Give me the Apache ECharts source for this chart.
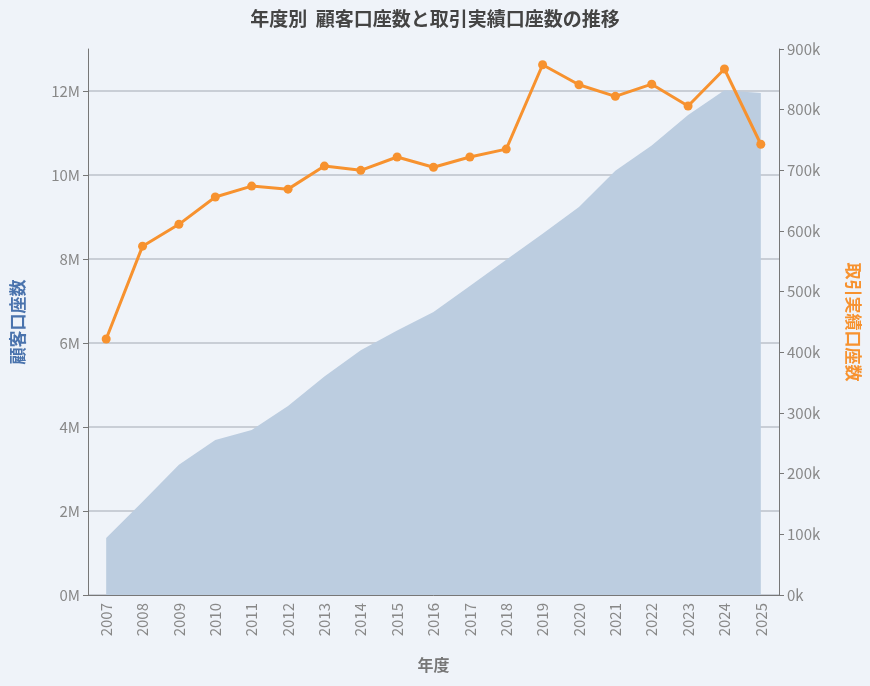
<!DOCTYPE html>
<html><head><meta charset="utf-8">
<script src="https://cdn.jsdelivr.net/npm/echarts@6/dist/echarts.min.js"></script>
<style>html,body{margin:0;background:#eff3f9}#c{width:870px;height:686px}</style>
</head><body><div id="c"></div>
<script>
const years=['2007','2008','2009','2010','2011','2012','2013','2014','2015','2016','2017','2018','2019','2020','2021','2022','2023','2024','2025'];
const customerAccounts=[1.36,2.22,3.1,3.69,3.93,4.5,5.2,5.83,6.3,6.74,7.36,7.98,8.6,9.24,10.1,10.7,11.43,12.02,11.95].map(v=>v*1e6);
const tradingAccounts=[422,575,611,656,674,669,707,700,722,705,722,735,874,841,822,842,806,867,743].map(v=>v*1e3);
const font='"Noto Sans CJK JP","Noto Sans",sans-serif';
const c=echarts.init(document.getElementById('c'));
c.setOption({
backgroundColor:'#eff3f9',
textStyle:{fontFamily:font},
title:{text:'年度別  顧客口座数と取引実績口座数の推移',left:'center',top:4,textStyle:{fontSize:19,fontWeight:'bold',color:'#444',fontFamily:font}},
grid:{left:88,right:90,top:49,bottom:91},
xAxis:{type:'category',data:years,boundaryGap:true,name:'年度',nameLocation:'middle',nameGap:62,
 nameTextStyle:{fontSize:16,fontWeight:'bold',color:'#777'},
 axisLine:{lineStyle:{color:'#777'}},axisTick:{alignWithLabel:true,lineStyle:{color:'#777'}},
 axisLabel:{rotate:90,color:'#888',fontSize:15}},
yAxis:[{type:'value',min:0,max:13e6,interval:2e6,name:'顧客口座数',nameLocation:'middle',nameGap:62,
 nameTextStyle:{fontSize:17,fontWeight:'bold',color:'#4a73ad'},
 axisLine:{show:true,lineStyle:{color:'#777'}},axisTick:{show:true},
 axisLabel:{color:'#888',fontSize:15,showMaxLabel:false,formatter:v=>(v/1e6)+'M'},
 splitLine:{showMaxLine:false,lineStyle:{color:'#bcc2ca',width:1.5}}},
{type:'value',min:0,max:900000,interval:100000,name:'取引実績口座数',nameLocation:'middle',nameGap:66,nameRotate:-90,
 nameTextStyle:{fontSize:17,fontWeight:'bold',color:'#f7922f'},
 axisLine:{show:true,lineStyle:{color:'#777'}},axisTick:{show:true},
 axisLabel:{color:'#888',fontSize:15,formatter:v=>(v/1000)+'k'},splitLine:{show:false}}],
series:[{type:'line',data:customerAccounts,yAxisIndex:0,symbol:'none',lineStyle:{width:0},
 areaStyle:{color:'#bccde0',opacity:1},z:1},
{type:'line',data:tradingAccounts,yAxisIndex:1,symbol:'circle',symbolSize:9,
 lineStyle:{color:'#f7922f',width:3},itemStyle:{color:'#f7922f'},z:3}]
});
</script></body></html>
